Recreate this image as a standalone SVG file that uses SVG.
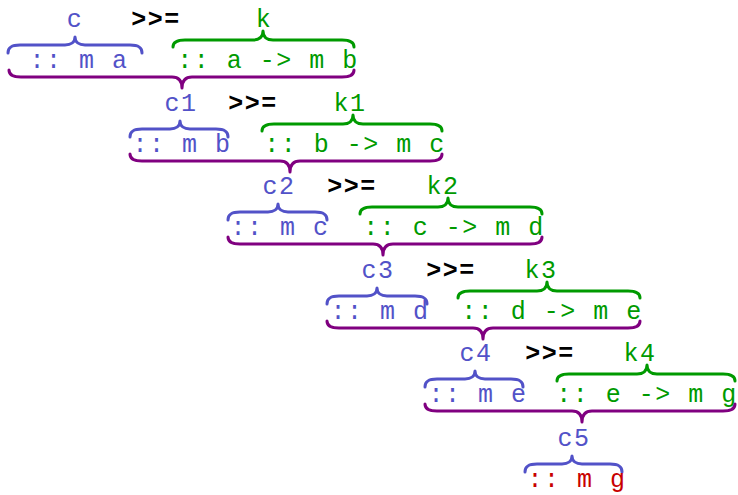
<svg xmlns="http://www.w3.org/2000/svg" width="738" height="495" viewBox="0 0 738 495">
  <style>
    text { font-family: "Liberation Mono", "DejaVu Sans Mono", monospace; font-size: 25px; letter-spacing: 1.5px; text-anchor: middle; }
    .blue { fill: #5252c8; }
    .green { fill: #009a00; }
    .red { fill: #c80000; }
    .op { fill: #000000; font-weight: bold; }
    .brace { fill: none; stroke-width: 3; stroke-linecap: round; stroke-linejoin: round; }
    .b-blue { stroke: #5252c8; }
    .b-green { stroke: #009a00; }
    .b-purple { stroke: #800080; }
  </style>
  <rect width="738" height="495" fill="#ffffff"/>

  <!-- row 0: c >>= k -->
  <g id="node-c">
    <text class="blue" x="75" y="27">c</text>
    <path class="brace b-blue" d="M8,53 C8,47 12,45 20,45 L65,45 C71,45 75,42 75,37 C75,42 79,45 85,45 L130,45 C138,45 142,47 142,53"/>
    <text class="blue" x="79" y="68">:: m a</text>
  </g>
  <g id="bind-0"><text class="op" x="156" y="27">&gt;&gt;=</text></g>
  <g id="node-k">
    <text class="green" x="264" y="27">k</text>
    <path class="brace b-green" d="M173,47 C173,42 177,40 185,40 L253,40 C259,40 263,37 263,31 C263,37 267,40 273,40 L342,40 C350,40 354,42 354,47"/>
    <text class="green" x="268" y="68">:: a -&gt; m b</text>
  </g>

  <!-- row 1: c1 >>= k1 -->
  <g id="node-c1">
    <text class="blue" x="181" y="111">c1</text>
    <path class="brace b-blue" d="M130,137 C130,131 134,129 142,129 L170,129 C176,129 180,126 180,121 C180,126 184,129 190,129 L216,129 C224,129 228,131 228,137"/>
    <text class="blue" x="182" y="152">:: m b</text>
  </g>
  <g id="bind-1"><text class="op" x="253" y="111">&gt;&gt;=</text></g>
  <g id="node-k1">
    <text class="green" x="350" y="111">k1</text>
    <path class="brace b-green" d="M262,131 C262,126 266,124 274,124 L343,124 C349,124 353,121 353,115 C353,121 357,124 363,124 L430,124 C438,124 442,126 442,131"/>
    <text class="green" x="355" y="152">:: b -&gt; m c</text>
  </g>

  <!-- row 2: c2 >>= k2 -->
  <g id="node-c2">
    <text class="blue" x="279" y="194">c2</text>
    <path class="brace b-blue" d="M228,220 C228,214 232,212 240,212 L268,212 C274,212 278,209 278,204 C278,209 282,212 288,212 L315,212 C323,212 327,214 327,220"/>
    <text class="blue" x="280" y="235">:: m c</text>
  </g>
  <g id="bind-2"><text class="op" x="352" y="194">&gt;&gt;=</text></g>
  <g id="node-k2">
    <text class="green" x="443" y="194">k2</text>
    <path class="brace b-green" d="M360,214 C360,209 364,207 372,207 L438,207 C444,207 448,204 448,198 C448,204 452,207 458,207 L530,207 C538,207 542,209 542,214"/>
    <text class="green" x="454" y="235">:: c -&gt; m d</text>
  </g>

  <!-- row 3: c3 >>= k3 -->
  <g id="node-c3">
    <text class="blue" x="378" y="278">c3</text>
    <path class="brace b-blue" d="M327,304 C327,298 331,296 339,296 L367,296 C373,296 377,293 377,288 C377,293 381,296 387,296 L415,296 C423,296 427,298 427,304"/>
    <text class="blue" x="380" y="319">:: m d</text>
  </g>
  <g id="bind-3"><text class="op" x="451" y="278">&gt;&gt;=</text></g>
  <g id="node-k3">
    <text class="green" x="541" y="278">k3</text>
    <path class="brace b-green" d="M458,298 C458,293 462,291 470,291 L537,291 C543,291 547,288 547,282 C547,288 551,291 557,291 L628,291 C636,291 640,293 640,298"/>
    <text class="green" x="552" y="319">:: d -&gt; m e</text>
  </g>

  <!-- row 4: c4 >>= k4 -->
  <g id="node-c4">
    <text class="blue" x="476" y="361">c4</text>
    <path class="brace b-blue" d="M425,387 C425,381 429,379 437,379 L465,379 C471,379 475,376 475,371 C475,376 479,379 485,379 L511,379 C519,379 523,381 523,387"/>
    <text class="blue" x="478" y="402">:: m e</text>
  </g>
  <g id="bind-4"><text class="op" x="550" y="361">&gt;&gt;=</text></g>
  <g id="node-k4">
    <text class="green" x="640" y="361">k4</text>
    <path class="brace b-green" d="M557,381 C557,376 561,374 569,374 L637,374 C643,374 647,371 647,365 C647,371 651,374 657,374 L723,374 C731,374 735,376 735,381"/>
    <text class="green" x="647" y="402">:: e -&gt; m g</text>
  </g>

  <!-- row 5: final result c5 -->
  <g id="node-c5">
    <text class="blue" x="574" y="446">c5</text>
    <path class="brace b-blue" d="M525,472 C525,466 529,464 537,464 L562,464 C568,464 572,461 572,456 C572,461 576,464 582,464 L610,464 C618,464 622,466 622,472"/>
    <text class="red" x="577" y="487">:: m g</text>
  </g>

  <!-- purple under-braces: each bind expression feeds the next computation -->
  <g id="connectors">
    <path class="brace b-purple" d="M9,70 C9,75 13,77 21,77 L172,77 C178,77 182,80 182,88 C182,80 186,77 192,77 L342,77 C350,77 354,75 354,70"/>
    <path class="brace b-purple" d="M130,154 C130,159 134,161 142,161 L280,161 C286,161 290,164 290,172 C290,164 294,161 300,161 L430,161 C438,161 442,159 442,154"/>
    <path class="brace b-purple" d="M228,237 C228,242 232,244 240,244 L373,244 C379,244 383,247 383,255 C383,247 387,244 393,244 L530,244 C538,244 542,242 542,237"/>
    <path class="brace b-purple" d="M327,321 C327,326 331,328 339,328 L473,328 C479,328 483,331 483,339 C483,331 487,328 493,328 L628,328 C636,328 640,326 640,321"/>
    <path class="brace b-purple" d="M425,404 C425,409 429,411 437,411 L572,411 C578,411 582,414 582,422 C582,414 586,411 592,411 L723,411 C731,411 735,409 735,404"/>
  </g>
</svg>
